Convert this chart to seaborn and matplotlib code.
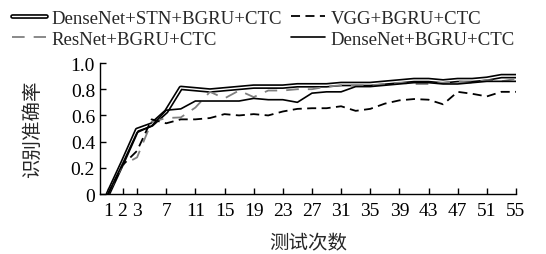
import matplotlib
matplotlib.use('Agg')
import matplotlib.pyplot as plt
import matplotlib.patheffects as pe
import seaborn as sns
from pandas import DataFrame

sns.set_theme(style="ticks")
plt.rcParams['font.family'] = ['Liberation Serif', 'Noto Sans CJK SC']

# test count (x categories, evenly spaced on the axis)
trials = [1, 2, 3, 5, 7, 9, 11, 13, 15, 17, 19, 21, 23, 25, 27,
          29, 31, 33, 35, 37, 39, 41, 43, 45, 47, 49, 51, 53, 55]
tick_labels = ['1', '2', '3', '7', '11', '15', '19', '23', '27', '31',
               '35', '39', '43', '47', '51', '55']

densenet_stn = [0, 0.24, 0.49, 0.53, 0.63, 0.81, 0.80, 0.79, 0.80, 0.81,
                0.82, 0.82, 0.82, 0.83, 0.83, 0.83, 0.84, 0.84, 0.84, 0.85,
                0.86, 0.87, 0.87, 0.86, 0.87, 0.87, 0.88, 0.90, 0.90]
vgg = [0, 0.22, 0.33, 0.57, 0.54, 0.57, 0.57, 0.58, 0.61, 0.60,
       0.61, 0.60, 0.63, 0.65, 0.655, 0.655, 0.67, 0.635, 0.65, 0.69,
       0.715, 0.725, 0.72, 0.685, 0.78, 0.765, 0.745, 0.78, 0.78]
resnet = [0, 0.22, 0.28, 0.55, 0.58, 0.585, 0.66, 0.78, 0.73, 0.79,
          0.74, 0.79, 0.79, 0.80, 0.80, 0.82, 0.83, 0.83, 0.83, 0.84,
          0.85, 0.84, 0.84, 0.85, 0.86, 0.85, 0.87, 0.86, 0.88]
densenet = [0, 0.23, 0.47, 0.52, 0.64, 0.65, 0.71, 0.71, 0.71, 0.71,
            0.73, 0.72, 0.72, 0.70, 0.77, 0.78, 0.78, 0.82, 0.82, 0.83,
            0.84, 0.85, 0.85, 0.84, 0.84, 0.85, 0.86, 0.86, 0.86]

pos = list(range(len(trials)))
df = DataFrame({'pos': pos, 'stn': densenet_stn, 'vgg': vgg,
                'resnet': resnet, 'densenet': densenet})

fig = plt.figure(figsize=(5.46, 2.55), dpi=100)
ax = fig.add_axes([0.183, 0.235, 0.762, 0.514])

sns.lineplot(data=df, x='pos', y='stn', ax=ax, color='white', lw=1.0,
             label='DenseNet+STN+BGRU+CTC')
ax.lines[-1].set_path_effects([pe.Stroke(linewidth=3.4, foreground='black'), pe.Normal()])
sns.lineplot(data=df, x='pos', y='resnet', ax=ax, color='#808080', lw=1.3,
             label='ResNet+BGRU+CTC')
ax.lines[-1].set_dashes([7, 5])
sns.lineplot(data=df, x='pos', y='vgg', ax=ax, color='black', lw=1.3,
             label='VGG+BGRU+CTC')
ax.lines[-1].set_dashes([5, 3])
sns.lineplot(data=df, x='pos', y='densenet', ax=ax, color='black', lw=1.2,
             label='DenseNet+BGRU+CTC')

tick_pos = [trials.index(int(t)) for t in tick_labels]
ax.set_xticks(tick_pos)
ax.set_xticklabels(tick_labels)
ax.set_xlim(-0.55, 28)
ax.set_ylim(0, 1.0)
ax.set_yticks([0, 0.2, 0.4, 0.6, 0.8, 1.0])
ax.set_yticklabels(['0', '0.2', '0.4', '0.6', '0.8', '1.0'])
ax.tick_params(direction='in', length=4, width=1, labelsize=14, colors='black')
ax.tick_params(axis='x', pad=6)
sns.despine(ax=ax, top=True, right=True)
for s in ['left', 'bottom']:
    ax.spines[s].set_color('black')
    ax.spines[s].set_linewidth(1.0)

ax.set_xlabel('测试次数', fontsize=14, family=['Noto Sans CJK SC'], labelpad=9)
ax.set_ylabel('识别准确率', fontsize=14, family=['Noto Sans CJK SC'], labelpad=20)

leg = ax.legend(loc='lower left', bbox_to_anchor=(-0.2115, 1.115), ncol=2,
                frameon=False, fontsize=13.5, handlelength=1.8,
                handletextpad=0.3, columnspacing=0.5, labelspacing=0.22,
                borderaxespad=0.0, borderpad=0.0)

fig.savefig('out.png', dpi=100)
